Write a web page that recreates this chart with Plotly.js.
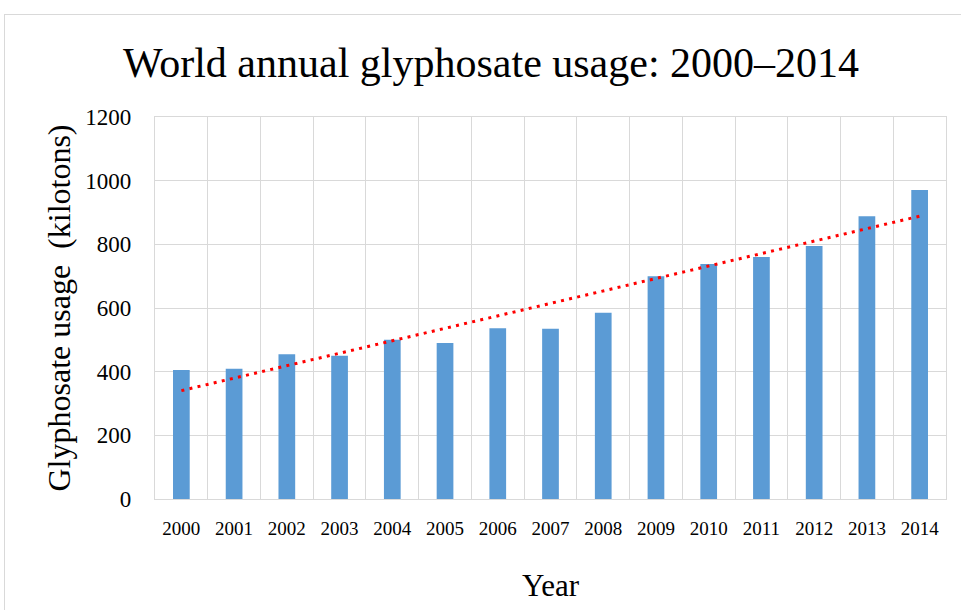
<!DOCTYPE html>
<html>
<head>
<meta charset="utf-8">
<script src="https://cdn.plot.ly/plotly-3.0.1.min.js"></script>
<style>
  html, body { margin: 0; padding: 0; background: #ffffff; overflow: hidden; }
  #wrap { position: relative; width: 961px; height: 610px; }
  #chart { position: absolute; left: 0; top: 0; width: 961px; height: 610px; }
  #frame { position: absolute; left: 4px; top: 14px; width: 1000px; height: 700px;
           border: 1px solid #d9d9d9; pointer-events: none; box-sizing: border-box; }
</style>
</head>
<body>
<div id="wrap">
  <div id="chart"></div>
  <div id="frame"></div>
</div>
<script>
// Data
const years = ["2000","2001","2002","2003","2004","2005","2006","2007","2008","2009","2010","2011","2012","2013","2014"];
const usageKilotons = [405, 409, 455, 450, 500, 490, 536, 535, 585, 700, 738, 760, 795, 888, 971];
const yTickValues = [0, 200, 400, 600, 800, 1000, 1200];

// Linear trendline (least squares) computed from the series
const n = usageKilotons.length;
const idx = usageKilotons.map((_, i) => i);
const mx = idx.reduce((a, b) => a + b, 0) / n;
const my = usageKilotons.reduce((a, b) => a + b, 0) / n;
let sxy = 0, sxx = 0;
for (let i = 0; i < n; i++) { sxy += (i - mx) * (usageKilotons[i] - my); sxx += (i - mx) * (i - mx); }
const slope = sxy / sxx;
const intercept = my - slope * mx;
const trend = idx.map(i => intercept + slope * i);

const serif = "'Liberation Serif', 'Times New Roman', Times, serif";

const traces = [
  {
    type: "bar",
    x: years,
    y: usageKilotons,
    marker: { color: "#5b9bd5", line: { width: 0 } },
    hoverinfo: "x+y",
    showlegend: false
  },
  {
    type: "scatter",
    mode: "lines",
    x: years,
    y: trend,
    line: { color: "#ff0000", width: 3, dash: "3px,5.3px" },
    hoverinfo: "skip",
    showlegend: false
  }
];

const layout = {
  width: 961,
  height: 610,
  margin: { l: 155, r: 15, t: 117, b: 111, pad: 0 },
  paper_bgcolor: "rgba(0,0,0,0)",
  plot_bgcolor: "#ffffff",
  bargap: 0.683,
  showlegend: false,
  font: { family: serif, color: "#000000" },
  title: {
    text: "World annual glyphosate usage: 2000–2014",
    font: { family: serif, size: 42, color: "#000000" },
    x: 491 / 961,
    xref: "container",
    xanchor: "center",
    y: 1 - 62 / 610,
    yref: "container",
    yanchor: "middle"
  },
  xaxis: {
    type: "category",
    tickson: "boundaries",
    showgrid: true,
    gridcolor: "#d9d9d9",
    gridwidth: 1.3,
    showline: true,
    mirror: true,
    linecolor: "#d9d9d9",
    linewidth: 1.3,
    ticks: "",
    ticklabelstandoff: 12,
    tickfont: { family: serif, size: 19, color: "#000000" },
    title: { text: "Year", font: { family: serif, size: 31, color: "#000000" }, standoff: 36 },
    automargin: false,
    fixedrange: true
  },
  yaxis: {
    range: [0, 1200],
    tickvals: yTickValues,
    ticktext: yTickValues.map(String),
    showgrid: true,
    gridcolor: "#d9d9d9",
    gridwidth: 1.3,
    zeroline: false,
    showline: true,
    mirror: true,
    linecolor: "#d9d9d9",
    linewidth: 1.3,
    ticks: "",
    ticklabelstandoff: 18,
    tickfont: { family: serif, size: 23, color: "#000000" },
    title: { text: "Glyphosate usage  (kilotons)", font: { family: serif, size: 32, color: "#000000" }, standoff: 5 },
    automargin: false,
    fixedrange: true
  }
};

Plotly.newPlot("chart", traces, layout, { displayModeBar: false, staticPlot: false, responsive: false });
</script>
</body>
</html>
